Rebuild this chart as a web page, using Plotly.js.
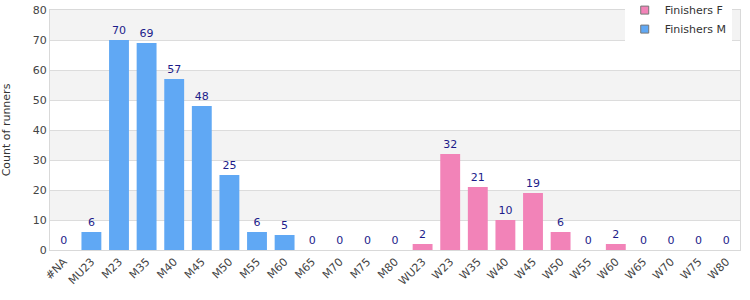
<!DOCTYPE html>
<html><head><meta charset="utf-8">
<script src="https://cdn.plot.ly/plotly-3.0.1.min.js"></script>
<style>body{margin:0;padding:0;}#chart{width:750px;height:300px;}</style>
</head><body><div id="chart"></div>
<script>
const categories = ["#NA","MU23","M23","M35","M40","M45","M50","M55","M60","M65","M70","M75","M80","WU23","W23","W35","W40","W45","W50","W55","W60","W65","W70","W75","W80"];
const finishersM = [0,6,70,69,57,48,25,6,5,0,0,0,0,null,null,null,null,null,null,null,null,null,null,null,null];
const finishersF = [null,null,null,null,null,null,null,null,null,null,null,null,null,2,32,21,10,19,6,0,2,0,0,0,0];
const yTicks = [0,10,20,30,40,50,60,70,80];
const seriesNames = ["Finishers F","Finishers M"];
const seriesColors = ["#f283b8","#60a8f4"];

const labelFont = {family:"DejaVu Sans, Verdana, sans-serif", size:11, color:"#1c1c8a"};
function txt(arr){return arr.map(v => v===null ? "" : String(v));}

const traces = [
  {type:"bar", name:seriesNames[0], x:categories, y:finishersF, text:txt(finishersF),
   textposition:"outside", textfont:labelFont, cliponaxis:false, showlegend:false,
   marker:{color:seriesColors[0], line:{width:0}}, width:0.72},
  {type:"bar", name:seriesNames[1], x:categories, y:finishersM, text:txt(finishersM),
   textposition:"outside", textfont:labelFont, cliponaxis:false, showlegend:false,
   marker:{color:seriesColors[1], line:{width:0}}, width:0.72},
  {type:"scatter", mode:"markers", name:seriesNames[0], x:[null], y:[null],
   marker:{symbol:"square", size:8, color:seriesColors[0], line:{color:"#777", width:1}}},
  {type:"scatter", mode:"markers", name:seriesNames[1], x:[null], y:[null],
   marker:{symbol:"square", size:8, color:seriesColors[1], line:{color:"#777", width:1}}}
];

const bands = [];
for (let i = 1; i < yTicks.length; i += 2) {
  bands.push({type:"rect", xref:"paper", yref:"y", x0:0, x1:1, y0:yTicks[i], y1:yTicks[i+1],
    fillcolor:"#f3f3f3", line:{width:0}, layer:"below"});
}

const layout = {
  width:750, height:300,
  margin:{l:50, r:10, t:10, b:50, autoexpand:false},
  font:{family:"DejaVu Sans, Verdana, sans-serif", size:11, color:"#444"},
  paper_bgcolor:"#fff", plot_bgcolor:"#fff",
  barmode:"overlay",
  showlegend:true,
  legend:{x:0.988, xanchor:"right", y:1.06, yanchor:"top",
    bgcolor:"#fff", font:{size:11, color:"#333"}, traceorder:"normal",
    itemwidth:30, tracegroupgap:0},
  xaxis:{type:"category", tickangle:-45, tickfont:{size:11, color:"#444"},
    showline:true, linecolor:"#d9d9d9", mirror:true, ticks:"", showgrid:false,
    range:[-0.5, categories.length-0.5], automargin:false},
  yaxis:{range:[0,80], tickvals:yTicks, showgrid:true, gridcolor:"#dcdcdc",
    showline:true, linecolor:"#d9d9d9", mirror:true, zeroline:false, ticks:"",
    tickfont:{size:11, color:"#444"}, automargin:false,
    title:{text:"Count of runners", font:{size:11, color:"#333"}, standoff:19}},
  shapes:bands
};

Plotly.newPlot("chart", traces, layout, {displayModeBar:false, staticPlot:true});
</script></body></html>
